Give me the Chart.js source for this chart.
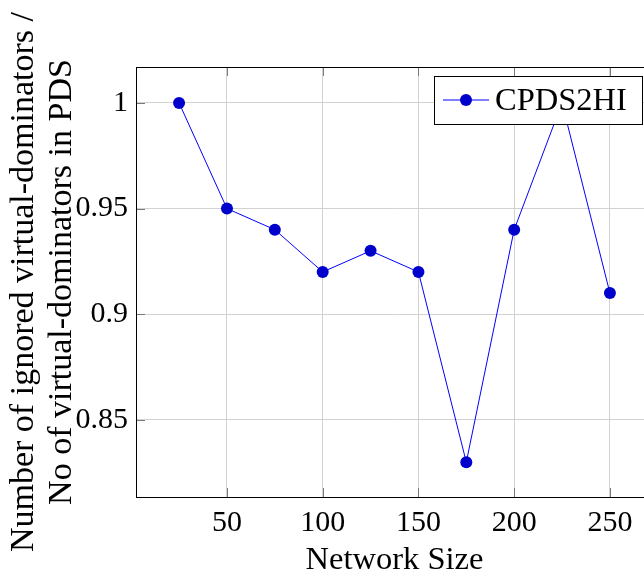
<!DOCTYPE html>
<html>
<head>
<meta charset="utf-8">
<title>CPDS2HI</title>
<script src="https://cdn.jsdelivr.net/npm/chart.js@4.4.1/dist/chart.umd.min.js"></script>
<style>
  html, body { margin: 0; padding: 0; background: #fff; overflow: hidden; }
  #wrap { width: 660px; height: 577px; }
</style>
</head>
<body>
<div id="wrap"><canvas id="chart" width="660" height="577"></canvas></div>
<script>
const networkSizes = [25, 50, 75, 100, 125, 150, 175, 200, 225, 250];
const ratioCPDS2HI = [1, 0.95, 0.94, 0.92, 0.93, 0.92, 0.83, 0.94, 1, 0.91];
const xTicks = [50, 100, 150, 200, 250];
const yTicks = [0.85, 0.9, 0.95, 1];
const seriesLabel = 'CPDS2HI';
const xTitle = 'Network Size';
const yTitle = ['Number of ignored virtual-dominators /', 'No of virtual-dominators in PDS'];

const SERIF = '"Liberation Serif", "Times New Roman", serif';
const LINE_BLUE = '#0000ff';
const MARK_BLUE = '#0000cc';

// frame around the plot plus the short inward tick marks on every side
const frameTicks = {
    id: 'frameTicks',
    beforeDatasetsDraw(chart) {
        const { ctx, chartArea: a, scales } = chart;
        const len = 9;
        ctx.save();
        ctx.strokeStyle = '#7a7a7a';
        ctx.lineWidth = 1;
        ctx.beginPath();
        xTicks.forEach(v => {
            const x = Math.round(scales.x.getPixelForValue(v)) + 0.5;
            ctx.moveTo(x, a.bottom); ctx.lineTo(x, a.bottom - len);
            ctx.moveTo(x, a.top); ctx.lineTo(x, a.top + len);
        });
        yTicks.forEach(v => {
            const y = Math.round(scales.y.getPixelForValue(v)) + 0.5;
            ctx.moveTo(a.left, y); ctx.lineTo(a.left + len, y);
            ctx.moveTo(a.right, y); ctx.lineTo(a.right - len, y);
        });
        ctx.stroke();
        ctx.strokeStyle = '#000';
        ctx.strokeRect(Math.round(a.left) + 0.5, Math.round(a.top) + 0.5,
            Math.round(a.right - a.left), Math.round(a.bottom - a.top));
        ctx.restore();
    }
};

// boxed legend in the upper right corner
const boxLegend = {
    id: 'boxLegend',
    afterDraw(chart) {
        const { ctx } = chart;
        const ds = chart.data.datasets[0];
        const bx = 434, by = 76, bw = 208, bh = 48;
        ctx.save();
        ctx.fillStyle = '#fff';
        ctx.fillRect(bx, by, bw, bh);
        ctx.strokeStyle = '#000';
        ctx.lineWidth = 1;
        ctx.strokeRect(bx + 0.5, by + 0.5, bw, bh);
        const cy = by + bh / 2;
        ctx.strokeStyle = ds.borderColor;
        ctx.beginPath();
        ctx.moveTo(bx + 9, cy); ctx.lineTo(bx + 55, cy);
        ctx.stroke();
        ctx.fillStyle = ds.pointBackgroundColor;
        ctx.beginPath();
        ctx.arc(bx + 32, cy, ds.pointRadius, 0, Math.PI * 2);
        ctx.fill();
        ctx.fillStyle = '#000';
        ctx.font = '32.5px ' + SERIF;
        ctx.textBaseline = 'middle';
        ctx.fillText(ds.label, bx + 61, cy + 1);
        ctx.restore();
    }
};

const tickFont = { family: SERIF, size: 30 };

new Chart(document.getElementById('chart'), {
    type: 'line',
    data: {
        datasets: [{
            label: seriesLabel,
            data: networkSizes.map((x, i) => ({ x, y: ratioCPDS2HI[i] })),
            borderColor: LINE_BLUE,
            borderWidth: 1,
            tension: 0,
            pointRadius: 6,
            pointHoverRadius: 6,
            pointBackgroundColor: MARK_BLUE,
            pointBorderColor: MARK_BLUE,
            pointBorderWidth: 0,
        }]
    },
    options: {
        responsive: false,
        animation: false,
        devicePixelRatio: 1,
        layout: { padding: { top: 67, right: 7, left: 0, bottom: 0 } },
        scales: {
            x: {
                type: 'linear',
                min: 2.5,
                max: 272.5,
                afterBuildTicks: s => { s.ticks = xTicks.map(value => ({ value })); },
                afterFit: s => { s.height = 80; },
                grid: { color: '#d2d2d2', drawTicks: false },
                border: { display: false },
                ticks: { font: tickFont, color: '#000', padding: 8, maxRotation: 0,
                         callback: v => String(v) },
                title: { display: true, text: xTitle, color: '#000',
                         font: { family: SERIF, size: 32.5, lineHeight: 1 },
                         padding: { top: 0, bottom: 0 } }
            },
            y: {
                type: 'linear',
                min: 0.8135,
                max: 1.017,
                afterBuildTicks: s => { s.ticks = yTicks.map(value => ({ value })); },
                afterFit: s => { s.width = 136; },
                grid: { color: '#d2d2d2', drawTicks: false },
                border: { display: false },
                ticks: { font: tickFont, color: '#000', padding: 8,
                         callback: v => String(v) },
                title: { display: true, text: yTitle, color: '#000',
                         font: { family: SERIF, size: 34, lineHeight: 1.1176 },
                         padding: { top: 5.5, bottom: 0 } }
            }
        },
        plugins: {
            legend: { display: false },
            tooltip: { enabled: false }
        }
    },
    plugins: [frameTicks, boxLegend]
});
</script>
</body>
</html>
